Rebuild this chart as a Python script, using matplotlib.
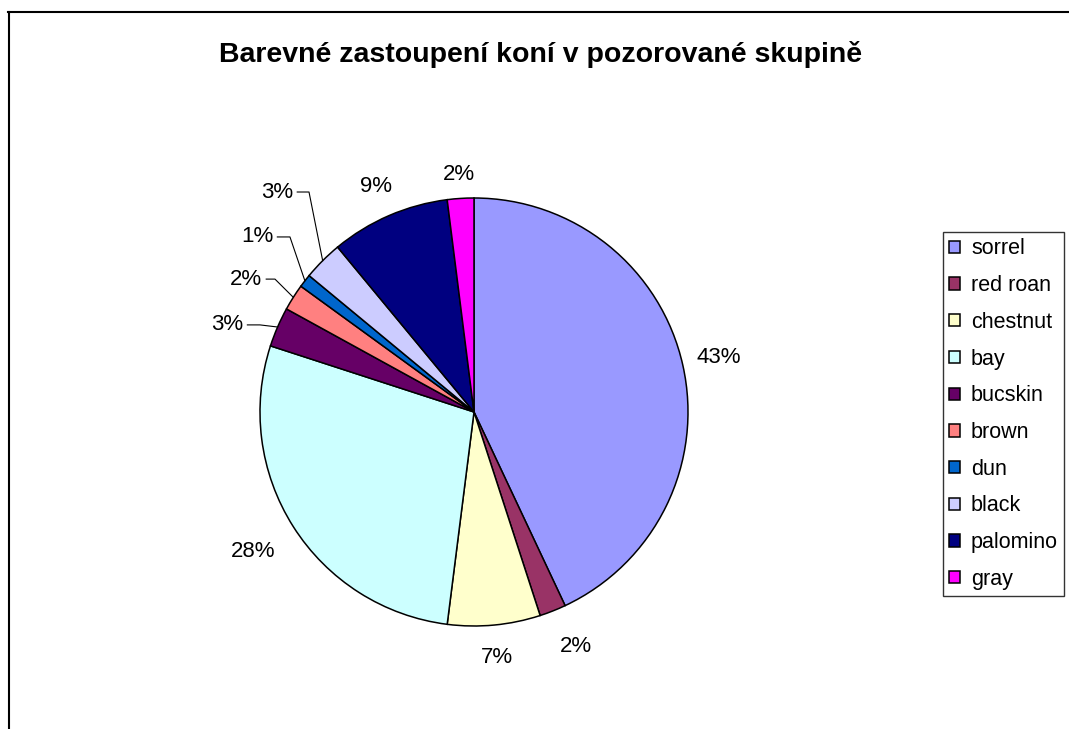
import numpy as np
import matplotlib.pyplot as plt
from matplotlib.lines import Line2D

plt.rcParams['font.family'] = ['Liberation Sans', 'DejaVu Sans']

# data
colours_names = ["sorrel", "red roan", "chestnut", "bay", "bucskin",
                 "brown", "dun", "black", "palomino", "gray"]
shares = [43, 2, 7, 28, 3, 2, 1, 3, 9, 2]
slice_colors = ["#9999FF", "#993366", "#FFFFCC", "#CCFFFF", "#660066",
                "#FF8080", "#0066CC", "#CCCCFF", "#000080", "#FF00FF"]
title = "Barevné zastoupení koní v pozorované skupině"

# labels that sit away from their slice, with a leader line
# name: (text right x, text y, elbow x)  in pie-radius units
leader_labels = {
    "bucskin": (-1.079, 0.407, -1.00),
    "brown": (-0.991, 0.621, -0.930),
    "dun": (-0.939, 0.818, -0.860),
    "black": (-0.846, 1.028, -0.771),
}
label_dist = {"bay": 1.22, "chestnut": 1.15, "palomino": 1.15,
              "gray": 1.11, "red roan": 1.18}

W, H = 1069, 729
fig = plt.figure(figsize=(W / 100, H / 100), dpi=100)

# pie centre and radius in pixels
cx, cy, R = 474, 412, 214
ax = fig.add_axes([(cx - R) / W, (H - cy - R) / H, 2 * R / W, 2 * R / H])
wedges, _ = ax.pie(shares, colors=slice_colors, startangle=90,
                   counterclock=False, radius=1.0,
                   wedgeprops=dict(edgecolor="black", linewidth=1.1))
ax.set_xlim(-1, 1)
ax.set_ylim(-1, 1)
ax.set_aspect("equal")
ax.axis("off")

total = float(sum(shares))
fs = 16
start = 0.0
for name, val in zip(colours_names, shares):
    mid = np.deg2rad((start + val / 2) / total * 360)
    start += val
    ux, uy = np.sin(mid), np.cos(mid)
    txt = f"{round(val / total * 100):.0f}%"
    if name in leader_labels:
        tx, ty, ex = leader_labels[name]
        ax.text(tx, ty, txt, ha="right", va="center", fontsize=fs,
                clip_on=False)
        ax.add_line(Line2D([tx + 0.02, ex, ux], [ty, ty, uy],
                           color="black", linewidth=0.8, clip_on=False))
    else:
        d = label_dist.get(name, 1.17)
        ax.text(ux * d + (0.04 if name == "red roan" else 0), uy * d, txt,
                ha="center", va="center", fontsize=fs, clip_on=False)

fig.text(541 / W, 1 - 55 / H, title, ha="center", va="center",
         fontsize=20.5, fontweight="bold")

leg = fig.legend(wedges, colours_names, loc="upper left",
                 bbox_to_anchor=(943 / W, 1 - 232 / H), borderaxespad=0,
                 fontsize=15.5, frameon=True, fancybox=False,
                 handlelength=0.5, handleheight=0.5, handletextpad=0.5,
                 labelspacing=0.73, borderpad=0.3)
leg.get_frame().set_edgecolor("black")
leg.get_frame().set_linewidth(1.0)

# chart area border (left and top visible)
fig.add_artist(Line2D([8.5 / W, 8.5 / W], [1 - 12 / H, 0],
                      transform=fig.transFigure, color="black", lw=1.5))
fig.add_artist(Line2D([8 / W, 1], [1 - 12 / H, 1 - 12 / H],
                      transform=fig.transFigure, color="black", lw=1.5))

fig.savefig("out.png", dpi=100)
